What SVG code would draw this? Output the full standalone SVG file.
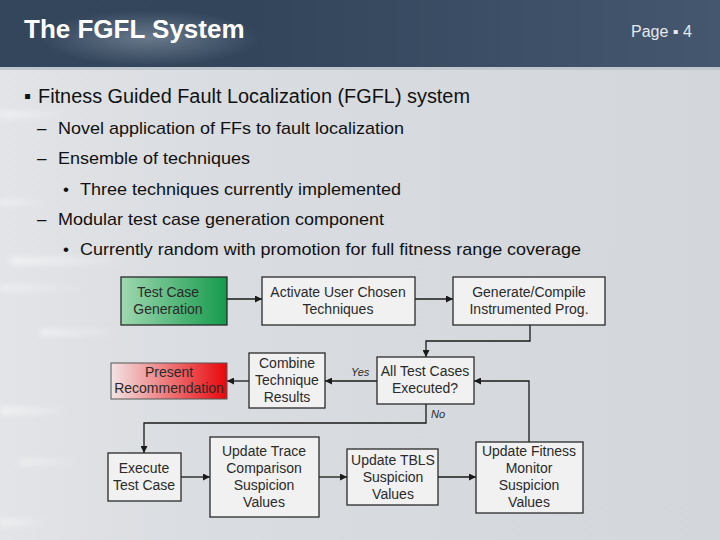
<svg xmlns="http://www.w3.org/2000/svg" width="720" height="540" viewBox="0 0 720 540">
<defs>
<linearGradient id="hdr" x1="0" y1="0" x2="1" y2="0">
<stop offset="0" stop-color="#34465c"/>
<stop offset="0.35" stop-color="#33455b"/>
<stop offset="1" stop-color="#44576e"/>
</linearGradient>
<radialGradient id="ghost" cx="0.5" cy="0.5" r="0.5">
<stop offset="0" stop-color="#8a9aaa" stop-opacity="0.6"/>
<stop offset="1" stop-color="#8a9aaa" stop-opacity="0"/>
</radialGradient>
<linearGradient id="body" x1="0" y1="0" x2="1" y2="0">
<stop offset="0" stop-color="#e2e4e7"/>
<stop offset="0.3" stop-color="#d9dce0"/>
<stop offset="1" stop-color="#d3d7db"/>
</linearGradient>
<linearGradient id="streak" x1="0" y1="0" x2="1" y2="0">
<stop offset="0" stop-color="#ffffff" stop-opacity="0.7"/>
<stop offset="1" stop-color="#ffffff" stop-opacity="0"/>
</linearGradient>
<filter id="blur" x="-20%" y="-100%" width="140%" height="300%"><feGaussianBlur stdDeviation="3"/></filter>
<linearGradient id="green" x1="0" y1="0" x2="1" y2="0">
<stop offset="0" stop-color="#9fd8b0"/>
<stop offset="1" stop-color="#159a4c"/>
</linearGradient>
<linearGradient id="red" x1="0" y1="0" x2="1" y2="0">
<stop offset="0" stop-color="#f2e4e4"/>
<stop offset="1" stop-color="#e8070b"/>
</linearGradient>
<marker id="arr" viewBox="0 0 10 10" refX="10" refY="5" markerWidth="7" markerHeight="7" orient="auto" markerUnits="userSpaceOnUse">
<path d="M0,0 L10,5 L0,10 z" fill="#1a1a1a"/>
</marker>
<style>
.box{fill:#f1f1f1;stroke:#2a2a2a;stroke-width:1.3}
.bt{font-family:"Liberation Sans",Arial,sans-serif;font-size:14px;fill:#2a2a2a;text-anchor:middle}
.ln{fill:none;stroke:#1a1a1a;stroke-width:1.3}
.lbl{font-family:"Liberation Sans",Arial,sans-serif;font-size:11px;font-style:italic;fill:#2a2a2a}
.b1{font-family:"Liberation Sans",Arial,sans-serif;font-size:20px;fill:#111}
.b2{font-family:"Liberation Sans",Arial,sans-serif;font-size:17px;fill:#111}
</style>
</defs>
<rect x="0" y="0" width="720" height="540" fill="url(#body)"/>
<g filter="url(#blur)" fill="url(#streak)">
<rect x="0" y="112" width="70" height="5"/>
<rect x="0" y="200" width="50" height="4"/>
<rect x="10" y="258" width="120" height="6"/>
<rect x="0" y="286" width="90" height="4"/>
<rect x="40" y="330" width="80" height="5"/>
<rect x="0" y="408" width="70" height="6"/>
<rect x="20" y="460" width="60" height="4"/>
<rect x="0" y="520" width="50" height="5"/>
</g>
<rect x="0" y="0" width="720" height="67" fill="url(#hdr)"/>
<ellipse cx="150" cy="38" rx="110" ry="28" fill="url(#ghost)"/>
<rect x="0" y="67" width="720" height="3" fill="#bfc6cd"/>
<text x="24" y="38" font-family="Liberation Sans,Arial,sans-serif" font-size="26" font-weight="bold" fill="#ffffff">The FGFL System</text>
<text x="631" y="37" font-family="Liberation Sans,Arial,sans-serif" font-size="16" fill="#e6e9ee">Page ▪ 4</text>

<g id="bullets">
<text class="b1" x="24" y="103">▪</text><text class="b1" x="38" y="103" textLength="432" lengthAdjust="spacingAndGlyphs">Fitness Guided Fault Localization (FGFL) system</text>
<text class="b2" x="37" y="134">–</text><text class="b2" x="58" y="134" textLength="346" lengthAdjust="spacingAndGlyphs">Novel application of FFs to fault localization</text>
<text class="b2" x="37" y="164">–</text><text class="b2" x="58" y="164" textLength="192" lengthAdjust="spacingAndGlyphs">Ensemble of techniques</text>
<text class="b2" x="63" y="195">•</text><text class="b2" x="80" y="195" textLength="321" lengthAdjust="spacingAndGlyphs">Three techniques currently implemented</text>
<text class="b2" x="37" y="225">–</text><text class="b2" x="58" y="225" textLength="326" lengthAdjust="spacingAndGlyphs">Modular test case generation component</text>
<text class="b2" x="63" y="255">•</text><text class="b2" x="80" y="255" textLength="501" lengthAdjust="spacingAndGlyphs">Currently random with promotion for full fitness range coverage</text>
</g>

<g id="connectors">
<line class="ln" x1="227" y1="299" x2="262" y2="299" marker-end="url(#arr)"/>
<line class="ln" x1="415" y1="299" x2="453" y2="299" marker-end="url(#arr)"/>
<polyline class="ln" points="530,325 530,341 426,341 426,357" marker-end="url(#arr)"/>
<line class="ln" x1="377" y1="381" x2="325" y2="381" marker-end="url(#arr)"/>
<line class="ln" x1="249" y1="381" x2="227" y2="381" marker-end="url(#arr)"/>
<polyline class="ln" points="426,404 426,423 144,423 144,453" marker-end="url(#arr)"/>
<polyline class="ln" points="529,442 529,381 474,381" marker-end="url(#arr)"/>
<line class="ln" x1="181" y1="477" x2="210" y2="477" marker-end="url(#arr)"/>
<line class="ln" x1="319" y1="477" x2="347" y2="477" marker-end="url(#arr)"/>
<line class="ln" x1="438" y1="477" x2="476" y2="477" marker-end="url(#arr)"/>
<text class="lbl" x="351" y="376">Yes</text>
<text class="lbl" x="431" y="418">No</text>
</g>

<g id="testcasegen">
<rect x="121" y="277" width="106" height="48" fill="url(#green)" stroke="#2a2a2a" stroke-width="1.3"/>
<text class="bt" x="168" y="297">Test Case</text><text class="bt" x="168" y="314">Generation</text>
</g>
<g id="activate">
<rect class="box" x="262" y="277" width="153" height="48"/>
<text class="bt" x="338" y="297">Activate User Chosen</text><text class="bt" x="338" y="314">Techniques</text>
</g>
<g id="generate">
<rect class="box" x="453" y="277" width="152" height="48"/>
<text class="bt" x="529" y="297">Generate/Compile</text><text class="bt" x="529" y="314">Instrumented Prog.</text>
</g>
<g id="present">
<rect x="111" y="363" width="116" height="36" fill="url(#red)" stroke="#555" stroke-width="1"/>
<text class="bt" x="169" y="377">Present</text><text class="bt" x="169" y="393">Recommendation</text>
</g>
<g id="combine">
<rect class="box" x="249" y="353" width="76" height="55"/>
<text class="bt" x="287" y="368">Combine</text><text class="bt" x="287" y="385">Technique</text><text class="bt" x="287" y="402">Results</text>
</g>
<g id="alltests">
<rect class="box" x="377" y="357" width="97" height="47"/>
<text class="bt" x="425" y="376">All Test Cases</text><text class="bt" x="425" y="393">Executed?</text>
</g>
<g id="execute">
<rect class="box" x="108" y="453" width="73" height="48"/>
<text class="bt" x="144" y="473">Execute</text><text class="bt" x="144" y="490">Test Case</text>
</g>
<g id="trace">
<rect class="box" x="210" y="437" width="109" height="80"/>
<text class="bt" x="264" y="456">Update Trace</text><text class="bt" x="264" y="473">Comparison</text><text class="bt" x="264" y="490">Suspicion</text><text class="bt" x="264" y="507">Values</text>
</g>
<g id="tbls">
<rect class="box" x="347" y="449" width="91" height="56"/>
<text class="bt" x="393" y="465">Update TBLS</text><text class="bt" x="393" y="482">Suspicion</text><text class="bt" x="393" y="499">Values</text>
</g>
<g id="fitness">
<rect class="box" x="476" y="442" width="107" height="71"/>
<text class="bt" x="529" y="456">Update Fitness</text><text class="bt" x="529" y="473">Monitor</text><text class="bt" x="529" y="490">Suspicion</text><text class="bt" x="529" y="507">Values</text>
</g>
</svg>
